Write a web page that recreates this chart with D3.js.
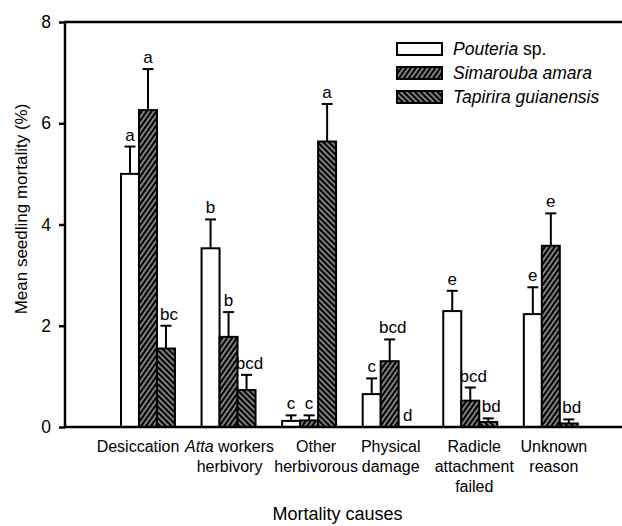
<!DOCTYPE html>
<html>
<head>
<meta charset="utf-8">
<script src="https://cdn.jsdelivr.net/npm/d3@7"></script>
<style>
  body { margin: 0; background: #fff; }
  text { font-family: Arial, "Liberation Sans", sans-serif; fill: #000; }
</style>
</head>
<body>
<div id="chart"></div>
<script>
// Mortality causes and species
let causes = ["Desiccation", "Atta", "Other", "Physical", "Radicle", "Unknown"];
let species = ["Pouteria", "Simarouba", "Tapirira"];
let speciesNames = ["Pouteria sp.", "Simarouba amara", "Tapirira guianensis"];

// Mean mortality (%) per species, in order of causes
let pouteriaMean = [5.0, 3.53, 0.12, 0.65, 2.29, 2.23];
let simaroubaMean = [6.26, 1.78, 0.13, 1.30, 0.52, 3.58];
let tapiriraMean = [1.55, 0.73, 5.64, 0.0, 0.10, 0.07];

// Upper end of the standard error bars
let pouteriaErr = [5.54, 4.1, 0.23, 0.96, 2.69, 2.76];
let simaroubaErr = [7.07, 2.27, 0.23, 1.73, 0.78, 4.22];
let tapiriraErr = [2.0, 1.03, 6.38, 0.0, 0.17, 0.15];

// Letters from the post-hoc test
let pouteriaLetters = ["a", "b", "c", "c", "e", "e"];
let simaroubaLetters = ["a", "b", "c", "bcd", "bcd", "e"];
let tapiriraLetters = ["bc", "bcd", "a", "d", "bd", "bd"];

let yTicks = [0, 2, 4, 6, 8];

let width = 622, height = 526;
let plotLeft = 65, plotTop = 22, plotBottom = 427;

let svg = d3.select("#chart").append("svg")
    .attr("width", width)
    .attr("height", height);

let defs = svg.append("defs");
function hatch(id, angle) {
    let p = defs.append("pattern")
        .attr("id", id)
        .attr("patternUnits", "userSpaceOnUse")
        .attr("width", 4)
        .attr("height", 4)
        .attr("patternTransform", "rotate(" + angle + ")");
    p.append("rect").attr("width", 4).attr("height", 4).attr("fill", "#000");
    p.append("line")
        .attr("x1", 2).attr("y1", 0).attr("x2", 2).attr("y2", 4)
        .attr("stroke", "#fff").attr("stroke-width", 1);
}
hatch("fwd", 35);
hatch("back", -45);

let fills = ["#fff", "url(#fwd)", "url(#back)"];

let x = d3.scaleBand()
    .domain(causes)
    .range([94.4, 604.4])
    .paddingInner(0.33)
    .paddingOuter(0.33);

let xs = d3.scaleBand()
    .domain(species)
    .range([0, x.bandwidth()]);

let y = d3.scaleLinear()
    .domain([0, 8])
    .range([plotBottom, plotTop]);

// Build rows for drawing
let means = [pouteriaMean, simaroubaMean, tapiriraMean];
let errs = [pouteriaErr, simaroubaErr, tapiriraErr];
let letters = [pouteriaLetters, simaroubaLetters, tapiriraLetters];
let rows = [];
causes.forEach((c, i) => {
    species.forEach((s, j) => {
        rows.push({cause: c, sp: s, k: j, mean: means[j][i], err: errs[j][i], letter: letters[j][i]});
    });
});

// Bars
svg.append("g").selectAll("rect")
    .data(rows)
    .enter()
    .append("rect")
    .attr("x", d => x(d.cause) + xs(d.sp))
    .attr("y", d => y(d.mean))
    .attr("width", xs.bandwidth())
    .attr("height", d => y(0) - y(d.mean))
    .attr("fill", d => fills[d.k])
    .attr("stroke", "#000")
    .attr("stroke-width", 2);

// Error bars (upper only)
let eb = svg.append("g").selectAll("g")
    .data(rows.filter(d => d.err > d.mean))
    .enter()
    .append("g")
    .attr("stroke", "#000")
    .attr("stroke-width", 2);
eb.append("line")
    .attr("x1", d => x(d.cause) + xs(d.sp) + xs.bandwidth() / 2)
    .attr("x2", d => x(d.cause) + xs(d.sp) + xs.bandwidth() / 2)
    .attr("y1", d => y(d.mean))
    .attr("y2", d => y(d.err));
eb.append("line")
    .attr("x1", d => x(d.cause) + xs(d.sp) + xs.bandwidth() / 2 - 5.5)
    .attr("x2", d => x(d.cause) + xs(d.sp) + xs.bandwidth() / 2 + 5.5)
    .attr("y1", d => y(d.err))
    .attr("y2", d => y(d.err));

// Letters
svg.append("g").selectAll("text")
    .data(rows)
    .enter()
    .append("text")
    .attr("x", d => x(d.cause) + xs(d.sp) + xs.bandwidth() / 2 + (d.letter.length > 1 ? 3 : 0))
    .attr("y", d => y(Math.max(d.err, d.mean)) - 6)
    .attr("text-anchor", "middle")
    .style("font-size", "17px")
    .text(d => d.letter);

// Axes and frame
let yAxis = svg.append("g")
    .attr("transform", "translate(" + plotLeft + ",0)")
    .call(d3.axisLeft(y).tickValues(yTicks).tickSize(6).tickPadding(8));
yAxis.select(".domain").remove();
yAxis.selectAll(".tick line").attr("stroke-width", 2.5);
yAxis.selectAll(".tick text")
    .style("font-size", "17.5px")
    .style("font-family", "Arial, 'Liberation Sans', sans-serif");

svg.append("path")
    .attr("d", "M" + width + "," + plotTop + "H" + plotLeft + "V" + plotBottom + "H" + width)
    .attr("fill", "none")
    .attr("stroke", "#000")
    .attr("stroke-width", 2.5);

// Category labels (small manual shifts as in the original)
let labelLines = {
    Desiccation: [["Desiccation"]],
    Atta: [[["Atta", true], [" workers", false]], ["herbivory"]],
    Other: [["Other"], ["herbivorous"]],
    Physical: [["Physical"], ["damage"]],
    Radicle: [["Radicle"], ["attachment"], ["failed"]],
    Unknown: [["Unknown"], ["reason"]]
};
let labelShift = {Desiccation: -10, Atta: 1, Other: 7, Physical: 1, Radicle: 4, Unknown: 3};

causes.forEach(c => {
    let cx = x(c) + x.bandwidth() / 2 + labelShift[c];
    labelLines[c].forEach((line, li) => {
        let t = svg.append("text")
            .attr("x", cx)
            .attr("y", 452 + li * 20)
            .attr("text-anchor", "middle")
            .style("font-size", "16px");
        line.forEach(part => {
            if (Array.isArray(part)) {
                t.append("tspan").style("font-style", part[1] ? "italic" : "normal").text(part[0]);
            } else {
                t.append("tspan").text(part);
            }
        });
    });
});

// Axis titles
svg.append("text")
    .attr("transform", "translate(27,209) rotate(-90)")
    .attr("text-anchor", "middle")
    .style("font-size", "17px")
    .text("Mean seedling mortality (%)");

svg.append("text")
    .attr("x", 337.5)
    .attr("y", 520)
    .attr("text-anchor", "middle")
    .style("font-size", "18px")
    .text("Mortality causes");

// Legend
let legend = svg.append("g").selectAll("g")
    .data(speciesNames)
    .enter()
    .append("g")
    .attr("transform", (d, i) => "translate(397," + (43 + i * 24) + ")");
legend.append("rect")
    .attr("width", 45)
    .attr("height", 12)
    .attr("fill", (d, i) => fills[i])
    .attr("stroke", "#000")
    .attr("stroke-width", 2);
legend.append("text")
    .attr("x", 56)
    .attr("y", 12)
    .style("font-size", "17.5px")
    .each(function(d) {
        let t = d3.select(this);
        if (d === "Pouteria sp.") {
            t.append("tspan").style("font-style", "italic").text("Pouteria");
            t.append("tspan").text(" sp.");
        } else {
            t.style("font-style", "italic").text(d);
        }
    });
</script>
</body>
</html>
